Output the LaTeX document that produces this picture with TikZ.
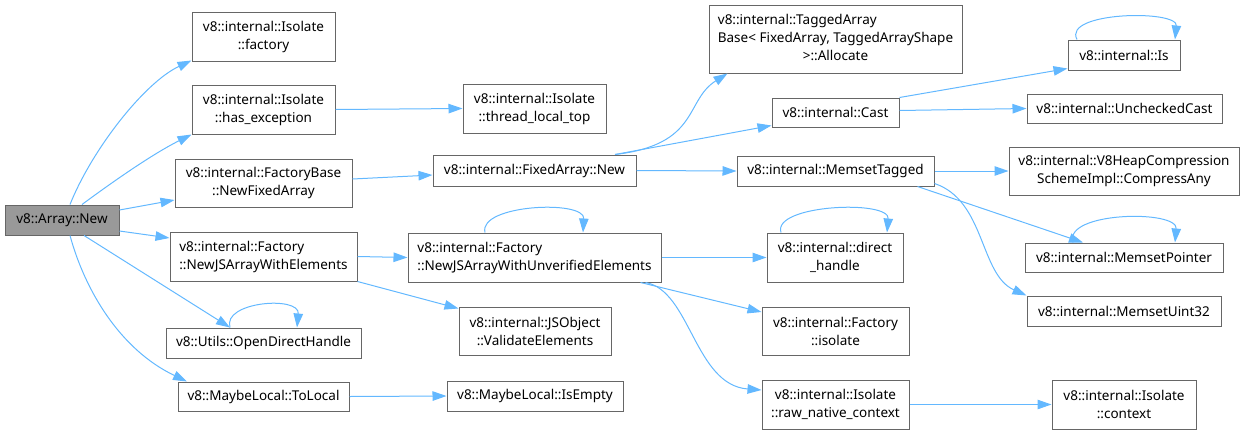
\documentclass[tikz,border=0pt]{standalone}
\usepackage{fontspec}
\setsansfont{Noto Sans}
\usetikzlibrary{arrows.meta,calc}
\definecolor{cgEdge}{HTML}{63B8FF}
\colorlet{cgLine}{black!60}
\colorlet{cgRoot}{black!40}
\tikzset{
  cgbox/.style={
    rectangle, draw=cgLine, line width=1pt, fill=white,
    align=center, font=\sffamily\fontsize{13.5}{18}\selectfont,
    inner sep=0pt
  },
  cgleft/.style={cgbox, align=left},
  cgroot/.style={cgbox, fill=cgRoot},
  cgedge/.style={-{Triangle[length=14pt,width=9.5pt]}, draw=cgEdge, line width=1pt}
}

\begin{document}
\begin{tikzpicture}[x=1pt,y=-1pt]
  \useasboundingbox (0,0) rectangle (1244,434);

  \node[cgroot, minimum width=114pt, minimum height=30pt] (arrnew) at (62,220)
    {v8::Array::New};

  \node[cgbox, minimum width=143pt, minimum height=49pt] (isofac) at (263.5,36.5)
    {v8::internal::Isolate\\::factory};
  \node[cgbox, minimum width=143pt, minimum height=49pt] (isoexc) at (263.5,109.5)
    {v8::internal::Isolate\\::has\_exception};
  \node[cgbox, minimum width=177pt, minimum height=48pt] (fbnfa) at (263.5,183)
    {v8::internal::FactoryBase\\::NewFixedArray};
  \node[cgleft, minimum width=187pt, minimum height=49pt] (facnjs) at (263.5,256.5)
    {v8::internal::Factory\\::NewJSArrayWithElements};
  \node[cgbox, minimum width=195pt, minimum height=30pt] (odh) at (263.5,343)
    {v8::Utils::OpenDirectHandle};
  \node[cgbox, minimum width=171pt, minimum height=29pt] (tolocal) at (263.5,396.5)
    {v8::MaybeLocal::ToLocal};

  \node[cgbox, minimum width=143pt, minimum height=49pt] (tlt) at (534.5,108.5)
    {v8::internal::Isolate\\::thread\_local\_top};
  \node[cgbox, minimum width=203pt, minimum height=31pt] (fanew) at (534.5,170.5)
    {v8::internal::FixedArray::New};
  \node[cgleft, minimum width=253pt, minimum height=49pt] (facnju) at (534.5,257.5)
    {v8::internal::Factory\\::NewJSArrayWithUnverifiedElements};
  \node[cgbox, minimum width=152pt, minimum height=48pt] (jsoval) at (535,331)
    {v8::internal::JSObject\\::ValidateElements};
  \node[cgbox, minimum width=176pt, minimum height=30pt] (isempty) at (535,396)
    {v8::MaybeLocal::IsEmpty};

  \node[cgbox, minimum width=253pt, minimum height=68pt] (tabalo) at (835.5,39)
    {\begin{tabular}{@{}l@{}}v8::internal::TaggedArray\\Base< FixedArray, TaggedArrayShape\\
     \multicolumn{1}{@{}c@{}}{>::Allocate}\end{tabular}};
  \node[cgbox, minimum width=127pt, minimum height=29pt] (cast) at (835.5,112.5)
    {v8::internal::Cast};
  \node[cgbox, minimum width=197pt, minimum height=30pt] (memtag) at (835.5,171)
    {v8::internal::MemsetTagged};
  \node[cgbox, minimum width=136pt, minimum height=49pt] (dirh) at (835,257.5)
    {v8::internal::direct\\\_handle};
  \node[cgbox, minimum width=147pt, minimum height=48pt] (faciso) at (835.5,331)
    {v8::internal::Factory\\::isolate};
  \node[cgbox, minimum width=147pt, minimum height=49pt] (isornc) at (835.5,404.5)
    {v8::internal::Isolate\\::raw\_native\_context};

  \node[cgbox, minimum width=112pt, minimum height=30pt] (is) at (1124,55)
    {v8::internal::Is};
  \node[cgbox, minimum width=195pt, minimum height=29pt] (uncast) at (1124.5,108.5)
    {v8::internal::UncheckedCast};
  \node[cgbox, minimum width=230pt, minimum height=48pt] (heapca) at (1124,171)
    {v8::internal::V8HeapCompression\\SchemeImpl::CompressAny};
  \node[cgbox, minimum width=198pt, minimum height=29pt] (mempt) at (1124,257.5)
    {v8::internal::MemsetPointer};
  \node[cgbox, minimum width=194pt, minimum height=30pt] (memu32) at (1124,311)
    {v8::internal::MemsetUint32};
  \node[cgbox, minimum width=144pt, minimum height=49pt] (isoctx) at (1124,404.5)
    {v8::internal::Isolate\\::context};

  \draw[cgedge] ($(arrnew.north)+(8,0)$) .. controls +(22,-55) and +(-47,22) .. ($(isofac.south west)+(0,-1)$);
  \draw[cgedge] ($(arrnew.north)+(20,0)$) .. controls +(23,-17) and +(-42,21) .. (isoexc.south west);
  \draw[cgedge] ($(arrnew.east)+(0,-10)$) -- ($(fbnfa.west)+(0,17)$);
  \draw[cgedge] ($(arrnew.east)+(0,11)$) -- ($(facnjs.west)+(0,-18.5)$);
  \draw[cgedge] ($(arrnew.south)+(22,0)$) -- ($(odh.north)+(-33.5,0)$);
  \draw[cgedge] ($(arrnew.south)+(8,0)$) .. controls +(15,55) and +(-67,-32) .. ($(tolocal.north)+(-76.5,0)$);

  \draw[cgedge] (isoexc.east) -- (tlt.west);
  \draw[cgedge] ($(fbnfa.east)+(0,-4)$) -- ($(fanew.west)+(0,4.5)$);
  \draw[cgedge] (facnjs.east) -- (facnju.west);
  \draw[cgedge] (facnjs.south east) -- ($(jsoval.north west)+(0,2)$);
  \draw[cgedge] ($(odh.north)+(-33.5,0)$) .. controls +(-8,-26) and +(3,-32) .. ($(odh.north)+(33.5,0)$);
  \draw[cgedge] (tolocal.east) -- (isempty.west);

  \draw[cgedge] ($(fanew.north)+(80.5,0)$) .. controls +(85,-10) and +(-43,27) .. ($(tabalo.south west)+(19,0)$);
  \draw[cgedge] ($(fanew.north)+(80.5,0)$) -- ($(cast.south west)+(0,-2)$);
  \draw[cgedge] (fanew.east) -- (memtag.west);
  \draw[cgedge] ($(facnju.north)+(-49.5,0)$) .. controls +(-7,-28) and +(2,-33) .. ($(facnju.north)+(48.5,0)$);
  \draw[cgedge] (facnju.east) -- (dirh.west);
  \draw[cgedge] ($(facnju.south east)+(-21,0)$) -- ($(faciso.west)+(0,-19)$);
  \draw[cgedge] ($(facnju.south east)+(-16,0)$) .. controls +(45,8) and +(-67,-5) .. ($(isornc.west)+(0,-14.5)$);

  \draw[cgedge] ($(dirh.north)+(-54,0)$) .. controls +(-9,-28) and +(3,-33) .. ($(dirh.north)+(52,0)$);
  \draw[cgedge] (cast.north east) -- ($(is.south west)+(0,-2)$);
  \draw[cgedge] ($(cast.east)+(0,-2)$) -- (uncast.west);
  \draw[cgedge] (memtag.east) -- (heapca.west);
  \draw[cgedge] ($(memtag.south east)+(-17,0)$) -- ($(mempt.north)+(-41,0)$);
  \draw[cgedge] ($(memtag.south east)+(0,-3)$) .. controls +(51,17) and +(-47,-21) .. (memu32.north west);
  \draw[cgedge] (isornc.east) -- (isoctx.west);

  \draw[cgedge] ($(is.north)+(-47,0)$) .. controls +(-15,-28) and +(3,-30) .. ($(is.north)+(51,0)$);
  \draw[cgedge] ($(mempt.north)+(-51,0)$) .. controls +(-10,-31) and +(3,-33) .. ($(mempt.north)+(51,0)$);
\end{tikzpicture}
\end{document}
